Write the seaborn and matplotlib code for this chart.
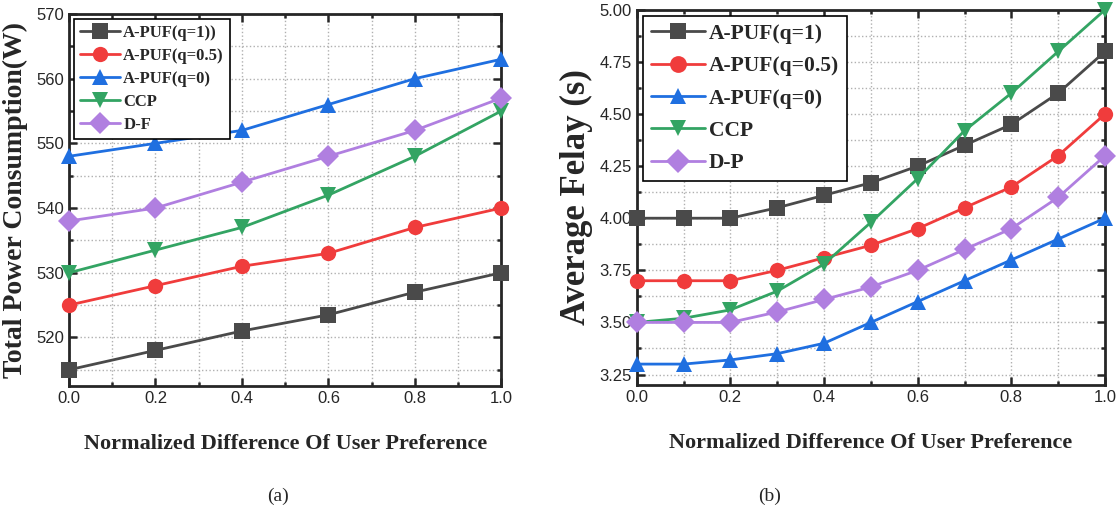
import numpy as np
import pandas as pd
import matplotlib
matplotlib.use('Agg')
import matplotlib.pyplot as plt
from matplotlib.ticker import MultipleLocator
import seaborn as sns

# 数据 (a)
x_a = [0.0, 0.2, 0.4, 0.6, 0.8, 1.0]
power_q1 = [515, 518, 521, 523.5, 527, 530]
power_q05 = [525, 528, 531, 533, 537, 540]
power_q0 = [548, 550, 552, 556, 560, 563]
power_ccp = [530, 533.5, 537, 542, 548, 555]
power_df = [538, 540, 544, 548, 552, 557]
labels_a = ['A-PUF(q=1))', 'A-PUF(q=0.5)', 'A-PUF(q=0)', 'CCP', 'D-F']

# 数据 (b)
x_b = [0.0, 0.1, 0.2, 0.3, 0.4, 0.5, 0.6, 0.7, 0.8, 0.9, 1.0]
delay_q1 = [4.0, 4.0, 4.0, 4.05, 4.11, 4.17, 4.25, 4.35, 4.45, 4.6, 4.8]
delay_q05 = [3.7, 3.7, 3.7, 3.75, 3.81, 3.87, 3.95, 4.05, 4.15, 4.3, 4.5]
delay_q0 = [3.3, 3.3, 3.32, 3.35, 3.4, 3.5, 3.6, 3.7, 3.8, 3.9, 4.0]
delay_ccp = [3.5, 3.52, 3.56, 3.65, 3.78, 3.98, 4.19, 4.42, 4.6, 4.8, 5.0]
delay_dp = [3.5, 3.5, 3.5, 3.55, 3.61, 3.67, 3.75, 3.85, 3.95, 4.1, 4.3]
labels_b = ['A-PUF(q=1)', 'A-PUF(q=0.5)', 'A-PUF(q=0)', 'CCP', 'D-P']

colors = ['#4a4a4a', '#f03c3c', '#1f6fe0', '#33a463', '#b07fe0']
markers = ['s', 'o', '^', 'v', 'D']

sns.set_style('ticks')
plt.rcParams['font.family'] = ['Liberation Sans', 'DejaVu Sans']

fig = plt.figure(figsize=(11.19, 5.16), dpi=100)
ax1 = fig.add_axes([0.0617, 0.252, 0.3863, 0.721])
ax2 = fig.add_axes([0.569, 0.254, 0.4185, 0.727])

serif_bold = dict(family='Liberation Serif', weight='bold')


def draw(ax, x, series, labels, ms, legend_size, spacing, hlen, mscale):
    rows = []
    for lab, vals in zip(labels, series):
        for xi, yi in zip(x, vals):
            rows.append({'x': xi, 'y': yi, 'method': lab})
    df = pd.DataFrame(rows)
    sns.lineplot(data=df, x='x', y='y', hue='method', style='method',
                 hue_order=labels, style_order=labels,
                 palette=colors, markers=markers, dashes=False,
                 markersize=ms, linewidth=2, markeredgewidth=0,
                 ax=ax, clip_on=False, zorder=3)
    ax.grid(True, which='both', linestyle=':', color='#b0b0b0', linewidth=1)
    ax.tick_params(which='both', direction='in', top=True, right=True,
                   width=1.8, labelsize=12)
    ax.tick_params(which='major', length=6)
    ax.tick_params(which='minor', length=3)
    for s in ax.spines.values():
        s.set_linewidth(2)
    leg = ax.legend(loc='upper left', prop=dict(family='Liberation Serif',
                    weight='bold', size=legend_size),
                    fancybox=False, edgecolor='black', framealpha=1,
                    borderaxespad=0.3, borderpad=0.35, handlelength=hlen,
                    handletextpad=0.2, labelspacing=spacing,
                    markerscale=mscale)
    leg.get_frame().set_linewidth(1.2)


draw(ax1, x_a, [power_q1, power_q05, power_q0, power_ccp, power_df],
     labels_a, 11, 12, 0.42, 2.4, 1.0)
ax1.set_xlim(0, 1)
ax1.set_ylim(512.5, 570)
ax1.xaxis.set_major_locator(MultipleLocator(0.2))
ax1.xaxis.set_minor_locator(MultipleLocator(0.1))
ax1.yaxis.set_major_locator(MultipleLocator(10))
ax1.yaxis.set_minor_locator(MultipleLocator(5))
ax1.set_xlabel('Normalized Difference Of User Preference', fontsize=16,
               labelpad=20, **serif_bold)
ax1.set_ylabel('Total Power Consumption(W)', fontsize=20, labelpad=6,
               **serif_bold)

draw(ax2, x_b, [delay_q1, delay_q05, delay_q0, delay_ccp, delay_dp],
     labels_b, 11, 15.5, 0.57, 2.5, 1.1)
ax2.set_xlim(0, 1)
ax2.set_ylim(3.2, 5.0)
ax2.xaxis.set_major_locator(MultipleLocator(0.2))
ax2.xaxis.set_minor_locator(MultipleLocator(0.1))
ax2.yaxis.set_major_locator(MultipleLocator(0.25))
ax2.yaxis.set_minor_locator(MultipleLocator(0.125))
ax2.set_xlabel('Normalized Difference Of User Preference', fontsize=16,
               labelpad=20, **serif_bold)
ax2.set_ylabel('Average Felay (s)', fontsize=25, labelpad=5, **serif_bold)

fig.text(0.248, 0.03, '(a)', ha='center', fontsize=14, family='Liberation Serif')
fig.text(0.688, 0.03, '(b)', ha='center', fontsize=14, family='Liberation Serif')

fig.savefig('out.png', dpi=100)
